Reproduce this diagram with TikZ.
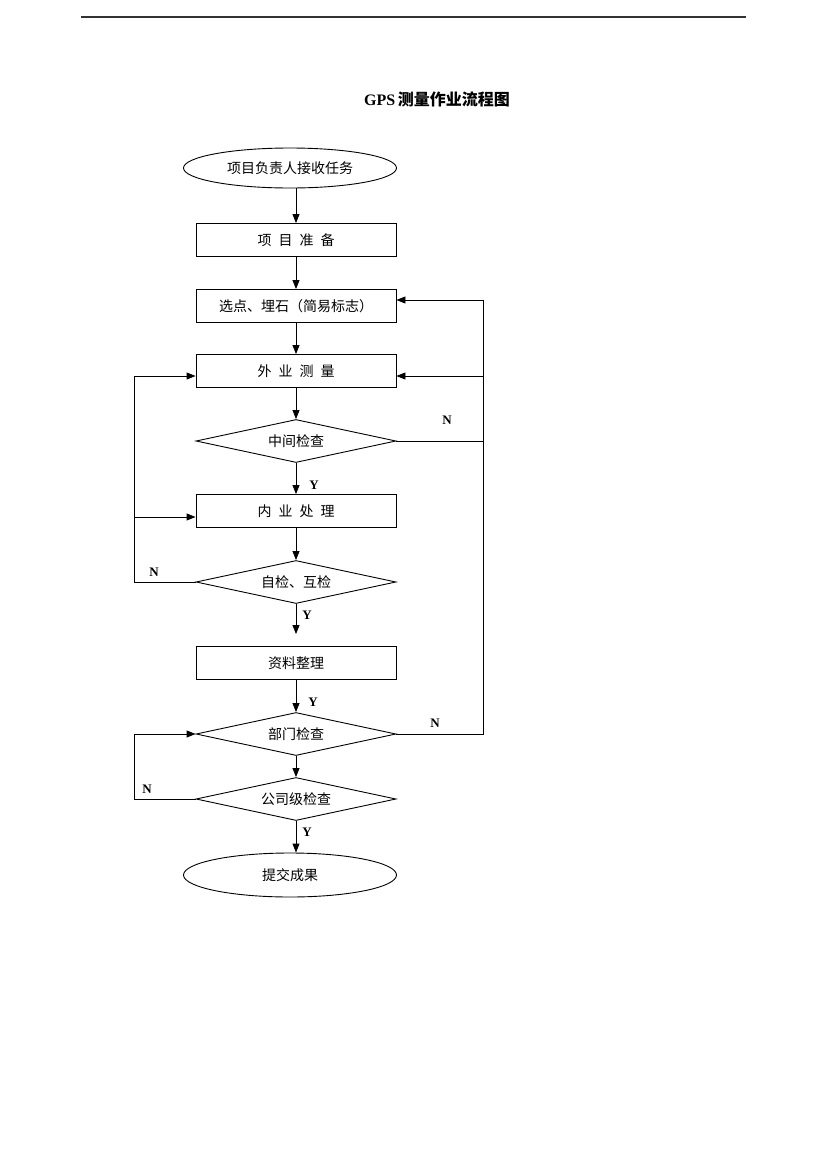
\documentclass[tikz,border=0pt]{standalone}
\usepackage{fontspec}
\setmainfont{Liberation Serif}
\newfontfamily\cjk{Noto Sans CJK SC}
\usetikzlibrary{shapes.geometric,arrows.meta}
\newcommand{\gp}{\hspace{0.5em}}
\begin{document}
\begin{tikzpicture}[x=1pt,y=-1pt,
  every node/.style={font=\cjk\fontsize{14}{16}\selectfont, inner sep=0pt},
  proc/.style={draw, line width=0.9pt, minimum width=200pt, minimum height=33pt},
  term/.style={draw, line width=0.9pt, ellipse, minimum width=213pt, minimum height=40pt},
  dec/.style={draw, line width=0.9pt, diamond, aspect=4.65, minimum width=200pt, minimum height=43pt},
  lab/.style={font=\rmfamily\bfseries\fontsize{13}{15}\selectfont},
  link/.style={line width=0.9pt},
  arr/.style={link, -{Triangle[length=9pt,width=7pt]}}
]
\useasboundingbox (0,0) rectangle (827,1170);
% header rule
\coordinate (hl) at (81,17);
\coordinate (hr) at (746,17);
\draw[line width=1.4pt, black!80] (hl) -- (hr);
% title
\node[font=\fontsize{16}{18}\selectfont] (title) at (437,99)
  {\rmfamily\bfseries GPS\,\cjk\bfseries 测量作业流程图};
% nodes
\node[term] (start) at (290,168) {项目负责人接收任务};
\node[proc] (prep) at (296,240) {项\gp 目\gp 准\gp 备};
\node[proc] (xd) at (296,306) {选点、埋石（简易标志）};
\node[proc] (wy) at (296,371) {外\gp 业\gp 测\gp 量};
\node[dec] (zj) at (296,441) {中间检查};
\node[proc] (ny) at (296,511) {内\gp 业\gp 处\gp 理};
\node[dec] (zh) at (296,582) {自检、互检};
\node[proc] (zl) at (296,663) {资料整理};
\node[dec] (bm) at (296,734) {部门检查};
\node[dec] (gs) at (296,799) {公司级检查};
\node[term, minimum height=44pt] (end) at (290,875) {提交成果};
% main vertical flow
\draw[arr] (start.south -| prep.north) -- (prep.north);
\draw[arr] (prep.south) -- (xd.north);
\draw[arr] (xd.south) -- (wy.north);
\draw[arr] (wy.south) -- (zj.north);
\draw[arr] (zj.south) -- (ny.north);
\draw[arr] (ny.south) -- (zh.north);
\coordinate (zlin) at ([yshift=12pt]zl.north);
\draw[arr] (zh.south) -- (zlin);
\draw[arr] (zl.south) -- (bm.north);
\draw[arr] (bm.south) -- (gs.north);
\draw[arr] (gs.south) -- (gs.south |- end.north);
% right loop
\coordinate (rb) at (483,734);
\coordinate (rt) at (483,300);
\coordinate (xdr) at ([yshift=6pt]xd.east);
\coordinate (wyr) at ([yshift=-5pt]wy.east);
\draw[link] (bm.east) -- (rb) -- (rt);
\draw[arr] (rt) -- (xdr);
\draw[arr] (wyr -| rt) -- (wyr);
\draw[link] (zj.east) -- (zj.east -| rt);
% left loops
\coordinate (lx) at (134,0);
\coordinate (wyl) at ([yshift=-5pt]wy.west);
\coordinate (nyl) at ([yshift=-6pt]ny.west);
\draw[link] (zh.west) -- (zh.west -| lx) -- (wyl -| lx);
\draw[arr] (wyl -| lx) -- (wyl);
\draw[arr] (nyl -| lx) -- (nyl);
\draw[link] (gs.west) -- (gs.west -| lx) -- (bm.west -| lx);
\draw[arr] (bm.west -| lx) -- (bm.west);
% labels
\node[lab] (n1) at (447,420) {N};
\node[lab] (y1) at (314,485) {Y};
\node[lab] (n2) at (154,572) {N};
\node[lab] (y2) at (307,615) {Y};
\node[lab] (y3) at (313,702) {Y};
\node[lab] (n3) at (435,723) {N};
\node[lab] (n4) at (147,789) {N};
\node[lab] (y4) at (307,832) {Y};
\end{tikzpicture}
\end{document}
